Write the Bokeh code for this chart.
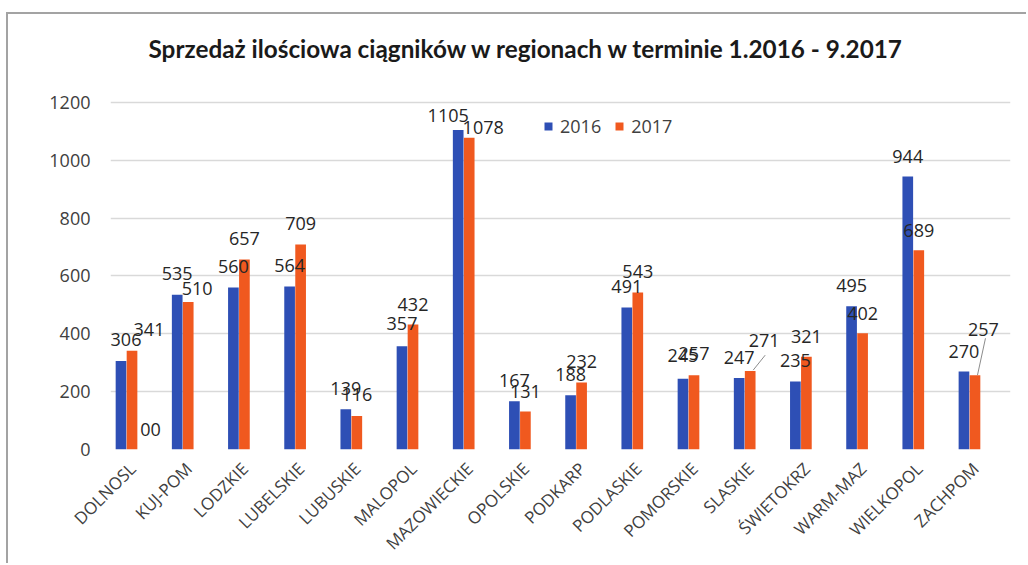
from bokeh.plotting import figure
from bokeh.models import ColumnDataSource, Range1d, FixedTicker, LabelSet, Legend, LegendItem
from bokeh.transform import dodge
from bokeh.core.properties import value
from bokeh.embed import file_html
from bokeh.resources import INLINE
from math import pi

# ---------------- data ----------------
regions = ["DOLNOSL", "KUJ-POM", "LODZKIE", "LUBELSKIE", "LUBUSKIE", "MALOPOL",
           "MAZOWIECKIE", "OPOLSKIE", "PODKARP", "PODLASKIE", "POMORSKIE",
           "SLASKIE", "ŚWIETOKRZ", "WARM-MAZ", "WIELKOPOL", "ZACHPOM"]
sales_2016 = [306, 535, 560, 564, 139, 357, 1105, 167, 188, 491, 245, 247, 235, 495, 944, 270]
sales_2017 = [341, 510, 657, 709, 116, 432, 1078, 131, 232, 543, 257, 271, 321, 402, 689, 257]
series_names = ["2016", "2017"]
y_ticks = [0, 200, 400, 600, 800, 1000, 1200]
stray_label_text = ["00"]          # stray label printed in the original chart
stray_label_region = ["DOLNOSL"]
stray_label_value = [0]

# ---------------- styling / label placement (pixels) ----------------
BLUE = "#2e4fb5"
ORANGE = "#f0591f"
TXT = "#404040"
dx16 = [5, 0, 0, 0, 0, 0, -10, 0, 0, 0, 0, 0, 0, 0, 0, 0]
dy16 = [21, 21, 21, 21, 21, 23, 14, 21, 21, 21, 23, 21, 21, 21, 20, 20]
dx17 = [17, 9, 0, 0, 0, 0, 14, 0, 0, 0, 0, 14, 0, 0, 0, 8.5]
dy17 = [21, 13.5, 21, 21, 21, 20, 10, 20, 21, 21, 22, 31, 20, 20, 20, 46]
leader_regions = ["SLASKIE", "ZACHPOM"]
leader_start_px = [(3, 1), (2.5, 0)]
leader_end_px = [(15, 16), (10.5, 37)]

FRAME_W = 900
GRID_H = 348          # pixel height of the 0..1200 span
EXTRA_TOP = 28        # empty frame space above the 1200 gridline
FRAME_H = GRID_H + EXTRA_TOP
X0, X1 = -0.285, 15.73
PX_X = FRAME_W / (X1 - X0)
PX_Y = GRID_H / 1200.0
Y_END = 1200.0 * FRAME_H / GRID_H
OFF = 0.098
BW = 0.19
TICK_SHIFT = 6 / PX_X   # category labels hang slightly right of the group centre

idx = list(range(len(regions)))
src = ColumnDataSource(dict(
    idx=idx, region=regions, v16=sales_2016, v17=sales_2017,
    t16=[str(v) for v in sales_2016], t17=[str(v) for v in sales_2017],
    dx16=dx16, dy16=dy16, dx17=dx17, dy17=dy17,
))

p = figure(width=1020, height=551, output_backend="svg", toolbar_location=None,
           x_range=Range1d(X0, X1), y_range=Range1d(0, Y_END),
           min_border_left=102, min_border_right=18, min_border_top=88 - EXTRA_TOP,
           min_border_bottom=115)
# outer chart box: top and left edges are visible in the cropped original
p.styles = {"border-top": "2px solid #a3a3a3", "border-left": "2px solid #a3a3a3",
            "margin-top": "12px", "margin-left": "6px"}
p.outline_line_color = None
p.background_fill_color = "white"
p.border_fill_color = "white"

# title
p.title.text = "Sprzedaż ilościowa ciągników w regionach w terminie 1.2016 - 9.2017"
p.title.text_font = "Lato"
p.title.text_font_style = "bold"
p.title.text_font_size = "24.3px"
p.title.text_color = "#1a1a1a"
p.title.align = "left"
p.title.offset = 38
p.title.standoff = 23

# bars
r16 = p.vbar(x=dodge("idx", -OFF), top="v16", width=BW, source=src,
             fill_color=BLUE, line_color=None)
r17 = p.vbar(x=dodge("idx", OFF), top="v17", width=BW, source=src,
             fill_color=ORANGE, line_color=None)

# data labels
for xo, yf, tf, dxf, dyf in [(-OFF, "v16", "t16", "dx16", "dy16"), (OFF, "v17", "t17", "dx17", "dy17")]:
    p.add_layout(LabelSet(x=dodge("idx", xo), y=yf, text=tf, source=src,
                          x_offset=dxf, y_offset=dyf, text_align="center",
                          text_baseline="middle", text_font=value("Open Sans"),
                          text_font_size="18px", text_color="#262626"))

# stray label
stray_src = ColumnDataSource(dict(
    i=[regions.index(r) for r in stray_label_region], v=stray_label_value, t=stray_label_text))
p.add_layout(LabelSet(x=dodge("i", OFF), y="v", text="t", source=stray_src,
                      x_offset=18.5, y_offset=20, text_align="center", text_baseline="middle",
                      text_font=value("Open Sans"), text_font_size="18px", text_color="#262626"))

# leader lines (computed from the values and label offsets)
lx0, ly0, lx1, ly1 = [], [], [], []
for r, (sx, sy), (ex, ey) in zip(leader_regions, leader_start_px, leader_end_px):
    i = regions.index(r)
    lx0.append(i + OFF + sx / PX_X)
    ly0.append(sales_2017[i] + sy / PX_Y)
    lx1.append(i + OFF + ex / PX_X)
    ly1.append(sales_2017[i] + ey / PX_Y)
p.segment(x0=lx0, y0=ly0, x1=lx1, y1=ly1, line_color="#8c8c8c", line_width=1)

# axes
p.yaxis.ticker = FixedTicker(ticks=y_ticks)
p.yaxis.axis_line_color = None
p.yaxis.major_tick_line_color = None
p.yaxis.minor_tick_line_color = None
p.yaxis.major_label_standoff = 14
p.yaxis.major_label_text_font = "Open Sans"
p.yaxis.major_label_text_font_size = "18px"
p.yaxis.major_label_text_color = TXT

xticks = [i + TICK_SHIFT for i in idx]
p.xaxis.ticker = FixedTicker(ticks=xticks)
p.xaxis.major_label_overrides = {t: r for t, r in zip(xticks, regions)}
p.xaxis.major_label_orientation = pi / 4
p.xaxis.axis_line_color = None
p.xaxis.major_tick_line_color = None
p.xaxis.minor_tick_line_color = None
p.xaxis.major_label_standoff = 10
p.xaxis.major_label_text_font = "Open Sans"
p.xaxis.major_label_text_font_size = "17px"
p.xaxis.major_label_text_color = TXT

p.xgrid.grid_line_color = None
p.ygrid.grid_line_color = "#d9d9d9"
p.ygrid.grid_line_width = 1.5

# legend
legend = Legend(items=[LegendItem(label=series_names[0], renderers=[r16]),
                       LegendItem(label=series_names[1], renderers=[r17])],
                orientation="horizontal", location=(433, 311),
                glyph_width=10, glyph_height=10, label_height=20,
                label_standoff=7, spacing=13, padding=0, margin=0,
                border_line_color=None, background_fill_alpha=0,
                label_text_font="Open Sans", label_text_font_size="18px",
                label_text_color=TXT)
p.add_layout(legend)

open("out.html", "w").write(file_html(p, INLINE))
